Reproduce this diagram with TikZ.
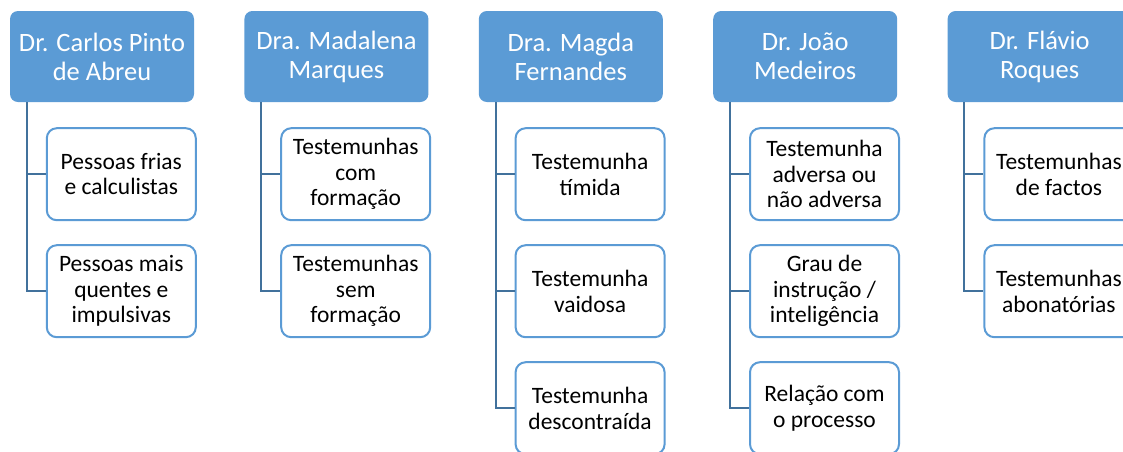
\documentclass[tikz,border=0pt]{standalone}
\usepackage{fontspec}
\setmainfont{Carlito}
\usepackage{tikz}
\usetikzlibrary{positioning}
\definecolor{headblue}{HTML}{5B9BD5}
\definecolor{linkblue}{HTML}{41719C}
\tikzstyle{head} = [rectangle, fill=headblue, text=white,
  minimum width=184pt, minimum height=91pt, inner sep=0pt, align=center,
  rounded corners=8pt, font=\fontsize{26.5}{29}\selectfont]
\tikzstyle{item} = [rectangle, draw=headblue, fill=white, line width=2pt,
  minimum width=149pt, minimum height=92pt, inner sep=0pt, align=center,
  rounded corners=10pt, font=\fontsize{23.5}{25.5}\selectfont]
\tikzstyle{link} = [draw=linkblue, line width=2pt]

\begin{document}
\begin{tikzpicture}
    \useasboundingbox (0,0) rectangle (1123pt,-451pt);
    \clip (0,0) rectangle (1123pt,-451pt);

    \node [head] at (102pt,-56.5pt) (carlos) {Dr. Carlos Pinto\\de Abreu};
    \node [head, right=50pt of carlos] (madalena) {Dra. Madalena\\Marques};
    \node [head, right=50pt of madalena] (magda) {Dra. Magda\\Fernandes};
    \node [head, right=50pt of magda] (joao) {Dr. João\\Medeiros};
    \node [head, right=50pt of joao] (flavio) {Dr. Flávio\\Roques};

    \node [item, below right=25pt and 36pt of carlos.south west] (frias) {Pessoas frias\\e calculistas};
    \node [item, below=23pt of frias] (quentes) {Pessoas mais\\quentes e\\impulsivas};

    \node [item, below right=25pt and 36pt of madalena.south west] (comform) {Testemunhas\\com\\formação};
    \node [item, below=23pt of comform] (semform) {Testemunhas\\sem\\formação};

    \node [item, below right=25pt and 36pt of magda.south west] (timida) {Testemunha\\tímida};
    \node [item, below=23pt of timida] (vaidosa) {Testemunha\\vaidosa};
    \node [item, below=23pt of vaidosa] (descontr) {Testemunha\\descontraída};

    \node [item, below right=25pt and 36pt of joao.south west] (adversa) {Testemunha\\adversa ou\\não adversa};
    \node [item, below=23pt of adversa] (grau) {Grau de\\instrução /\\inteligência};
    \node [item, below=23pt of grau] (relacao) {Relação com\\o processo};

    \node [item, below right=25pt and 36pt of flavio.south west] (factos) {Testemunhas\\de factos};
    \node [item, below=23pt of factos] (abonat) {Testemunhas\\abonatórias};

    \path [link] ([xshift=17pt]carlos.south west) |- (frias.west);
    \path [link] ([xshift=17pt]carlos.south west) |- (quentes.west);
    \path [link] ([xshift=17pt]madalena.south west) |- (comform.west);
    \path [link] ([xshift=17pt]madalena.south west) |- (semform.west);
    \path [link] ([xshift=17pt]magda.south west) |- (timida.west);
    \path [link] ([xshift=17pt]magda.south west) |- (vaidosa.west);
    \path [link] ([xshift=17pt]magda.south west) |- (descontr.west);
    \path [link] ([xshift=17pt]joao.south west) |- (adversa.west);
    \path [link] ([xshift=17pt]joao.south west) |- (grau.west);
    \path [link] ([xshift=17pt]joao.south west) |- (relacao.west);
    \path [link] ([xshift=17pt]flavio.south west) |- (factos.west);
    \path [link] ([xshift=17pt]flavio.south west) |- (abonat.west);

\end{tikzpicture}
\end{document}
